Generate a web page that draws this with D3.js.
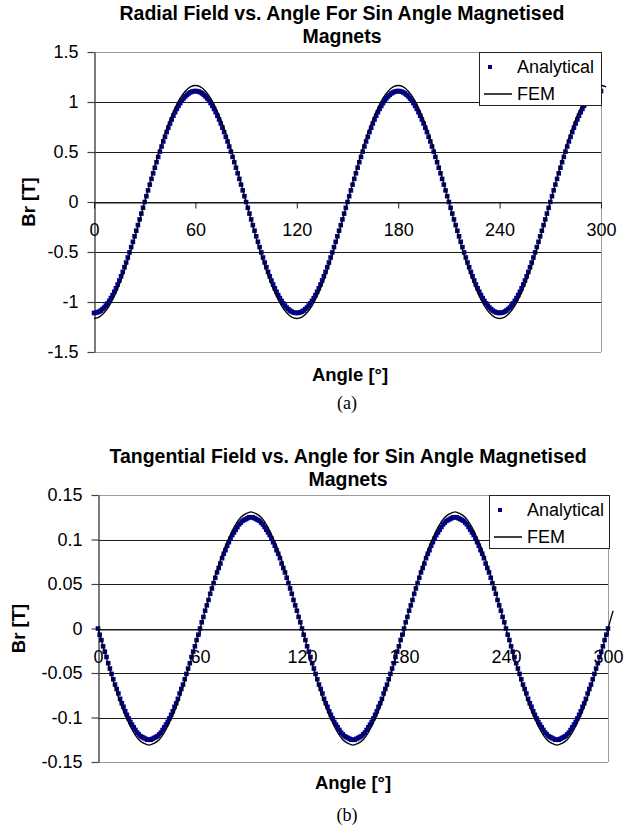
<!DOCTYPE html>
<html>
<head>
<meta charset="utf-8">
<script src="https://cdn.jsdelivr.net/npm/d3@7"></script>
<style>
  body { margin: 0; background: #fff; }
  svg { display: block; font-family: Arial, "Liberation Sans", sans-serif; }
</style>
</head>
<body>
<svg id="chart" width="633" height="835"></svg>
<script>
const ANGLE_TICKS = [0, 60, 120, 180, 240, 300];
const RADIAL_TICKS = [-1.5, -1, -0.5, 0, 0.5, 1, 1.5];
const TANGENTIAL_TICKS = [-0.15, -0.1, -0.05, 0, 0.05, 0.1, 0.15];
const SERIES_NAMES = ['Analytical', 'FEM'];
const TITLES = [
  ['Radial Field vs. Angle For Sin Angle Magnetised', 'Magnets'],
  ['Tangential Field vs. Angle for Sin Angle Magnetised', 'Magnets']
];
const X_TITLE = 'Angle [°]';
const Y_TITLE = 'Br [T]';
const CAPTIONS = ['(a)', '(b)'];

// analytical points, one per degree, 0..300
const ANALYTICAL_STEP = 1;
// FEM points, every 3 degrees, 0..303
const FEM_STEP = 3;

const RADIAL_ANALYTICAL = [
  -1.110,-1.108,-1.104,-1.096,-1.086,-1.072,-1.056,-1.036,-1.014,-0.989,-0.961,-0.931,-0.898,-0.863,-0.825,-0.785,-0.743,-0.699,-0.652,-0.605,-0.555,-0.504,-0.451,-0.398,-0.343,-0.287,-0.231,-0.174,-0.116,-0.058,0,
  0.058,0.116,0.174,0.231,0.287,0.343,0.398,0.451,0.504,0.555,0.605,0.652,0.699,0.743,0.785,0.825,0.863,0.898,0.931,0.961,0.989,1.014,1.036,1.056,1.072,1.086,1.096,1.104,1.108,1.110,
  1.108,1.104,1.096,1.086,1.072,1.056,1.036,1.014,0.989,0.961,0.931,0.898,0.863,0.825,0.785,0.743,0.699,0.652,0.605,0.555,0.504,0.451,0.398,0.343,0.287,0.231,0.174,0.116,0.058,0,
  -0.058,-0.116,-0.174,-0.231,-0.287,-0.343,-0.398,-0.451,-0.504,-0.555,-0.605,-0.652,-0.699,-0.743,-0.785,-0.825,-0.863,-0.898,-0.931,-0.961,-0.989,-1.014,-1.036,-1.056,-1.072,-1.086,-1.096,-1.104,-1.108,
  -1.110,-1.108,-1.104,-1.096,-1.086,-1.072,-1.056,-1.036,-1.014,-0.989,-0.961,-0.931,-0.898,-0.863,-0.825,-0.785,-0.743,-0.699,-0.652,-0.605,-0.555,-0.504,-0.451,-0.398,-0.343,-0.287,-0.231,-0.174,-0.116,-0.058,0,
  0.058,0.116,0.174,0.231,0.287,0.343,0.398,0.451,0.504,0.555,0.605,0.652,0.699,0.743,0.785,0.825,0.863,0.898,0.931,0.961,0.989,1.014,1.036,1.056,1.072,1.086,1.096,1.104,1.108,1.110,
  1.108,1.104,1.096,1.086,1.072,1.056,1.036,1.014,0.989,0.961,0.931,0.898,0.863,0.825,0.785,0.743,0.699,0.652,0.605,0.555,0.504,0.451,0.398,0.343,0.287,0.231,0.174,0.116,0.058,0,
  -0.058,-0.116,-0.174,-0.231,-0.287,-0.343,-0.398,-0.451,-0.504,-0.555,-0.605,-0.652,-0.699,-0.743,-0.785,-0.825,-0.863,-0.898,-0.931,-0.961,-0.989,-1.014,-1.036,-1.056,-1.072,-1.086,-1.096,-1.104,-1.108,
  -1.110,-1.108,-1.104,-1.096,-1.086,-1.072,-1.056,-1.036,-1.014,-0.989,-0.961,-0.931,-0.898,-0.863,-0.825,-0.785,-0.743,-0.699,-0.652,-0.605,-0.555,-0.504,-0.451,-0.398,-0.343,-0.287,-0.231,-0.174,-0.116,-0.058,0,
  0.058,0.116,0.174,0.231,0.287,0.343,0.398,0.451,0.504,0.555,0.605,0.652,0.699,0.743,0.785,0.825,0.863,0.898,0.931,0.961,0.989,1.014,1.036,1.056,1.072,1.086,1.096,1.104,1.108,1.110
];

const RADIAL_FEM = [
  -1.165,-1.151,-1.108,-1.038,-0.943,-0.824,-0.685,-0.529,-0.360,-0.182,0,
  0.182,0.360,0.529,0.685,0.824,0.943,1.038,1.108,1.151,1.165,
  1.151,1.108,1.038,0.943,0.824,0.685,0.529,0.360,0.182,0,
  -0.182,-0.360,-0.529,-0.685,-0.824,-0.943,-1.038,-1.108,-1.151,
  -1.165,-1.151,-1.108,-1.038,-0.943,-0.824,-0.685,-0.529,-0.360,-0.182,0,
  0.182,0.360,0.529,0.685,0.824,0.943,1.038,1.108,1.151,1.165,
  1.151,1.108,1.038,0.943,0.824,0.685,0.529,0.360,0.182,0,
  -0.182,-0.360,-0.529,-0.685,-0.824,-0.943,-1.038,-1.108,-1.151,
  -1.165,-1.151,-1.108,-1.038,-0.943,-0.824,-0.685,-0.529,-0.360,-0.182,0,
  0.182,0.360,0.529,0.685,0.824,0.943,1.038,1.108,1.151,1.165,
  1.151
];

const TANGENTIAL_ANALYTICAL = [
  0,-0.007,-0.013,-0.020,-0.026,-0.032,-0.039,-0.045,-0.051,-0.057,-0.063,-0.068,-0.073,-0.079,-0.084,-0.088,-0.093,-0.097,-0.101,-0.105,-0.108,-0.111,-0.114,-0.117,-0.119,-0.121,-0.122,-0.123,-0.124,-0.125,-0.125,
  -0.125,-0.124,-0.123,-0.122,-0.121,-0.119,-0.117,-0.114,-0.111,-0.108,-0.105,-0.101,-0.097,-0.093,-0.088,-0.084,-0.079,-0.073,-0.068,-0.063,-0.057,-0.051,-0.045,-0.039,-0.032,-0.026,-0.020,-0.013,-0.007,0,
  0.007,0.013,0.020,0.026,0.032,0.039,0.045,0.051,0.057,0.063,0.068,0.073,0.079,0.084,0.088,0.093,0.097,0.101,0.105,0.108,0.111,0.114,0.117,0.119,0.121,0.122,0.123,0.124,0.125,0.125,
  0.125,0.124,0.123,0.122,0.121,0.119,0.117,0.114,0.111,0.108,0.105,0.101,0.097,0.093,0.088,0.084,0.079,0.073,0.068,0.063,0.057,0.051,0.045,0.039,0.032,0.026,0.020,0.013,0.007,
  0,-0.007,-0.013,-0.020,-0.026,-0.032,-0.039,-0.045,-0.051,-0.057,-0.063,-0.068,-0.073,-0.079,-0.084,-0.088,-0.093,-0.097,-0.101,-0.105,-0.108,-0.111,-0.114,-0.117,-0.119,-0.121,-0.122,-0.123,-0.124,-0.125,-0.125,
  -0.125,-0.124,-0.123,-0.122,-0.121,-0.119,-0.117,-0.114,-0.111,-0.108,-0.105,-0.101,-0.097,-0.093,-0.088,-0.084,-0.079,-0.073,-0.068,-0.063,-0.057,-0.051,-0.045,-0.039,-0.032,-0.026,-0.020,-0.013,-0.007,0,
  0.007,0.013,0.020,0.026,0.032,0.039,0.045,0.051,0.057,0.063,0.068,0.073,0.079,0.084,0.088,0.093,0.097,0.101,0.105,0.108,0.111,0.114,0.117,0.119,0.121,0.122,0.123,0.124,0.125,0.125,
  0.125,0.124,0.123,0.122,0.121,0.119,0.117,0.114,0.111,0.108,0.105,0.101,0.097,0.093,0.088,0.084,0.079,0.073,0.068,0.063,0.057,0.051,0.045,0.039,0.032,0.026,0.020,0.013,0.007,
  0,-0.007,-0.013,-0.020,-0.026,-0.032,-0.039,-0.045,-0.051,-0.057,-0.063,-0.068,-0.073,-0.079,-0.084,-0.088,-0.093,-0.097,-0.101,-0.105,-0.108,-0.111,-0.114,-0.117,-0.119,-0.121,-0.122,-0.123,-0.124,-0.125,-0.125,
  -0.125,-0.124,-0.123,-0.122,-0.121,-0.119,-0.117,-0.114,-0.111,-0.108,-0.105,-0.101,-0.097,-0.093,-0.088,-0.084,-0.079,-0.073,-0.068,-0.063,-0.057,-0.051,-0.045,-0.039,-0.032,-0.026,-0.020,-0.013,-0.007,0
];

const TANGENTIAL_FEM = [
  0,-0.020,-0.040,-0.059,-0.077,-0.093,-0.106,-0.117,-0.125,-0.129,-0.131,
  -0.129,-0.125,-0.117,-0.106,-0.093,-0.077,-0.059,-0.040,-0.020,0,
  0.020,0.040,0.059,0.077,0.093,0.106,0.117,0.125,0.129,0.131,
  0.129,0.125,0.117,0.106,0.093,0.077,0.059,0.040,0.020,
  0,-0.020,-0.040,-0.059,-0.077,-0.093,-0.106,-0.117,-0.125,-0.129,-0.131,
  -0.129,-0.125,-0.117,-0.106,-0.093,-0.077,-0.059,-0.040,-0.020,0,
  0.020,0.040,0.059,0.077,0.093,0.106,0.117,0.125,0.129,0.131,
  0.129,0.125,0.117,0.106,0.093,0.077,0.059,0.040,0.020,
  0,-0.020,-0.040,-0.059,-0.077,-0.093,-0.106,-0.117,-0.125,-0.129,-0.131,
  -0.129,-0.125,-0.117,-0.106,-0.093,-0.077,-0.059,-0.040,-0.020,0,
  0.020
];

const BLUE = '#020280';
const BORDER_GREY = '#9c9c9c';

const PANELS = [
  {
    title: TITLES[0], caption: CAPTIONS[0],
    yTicks: RADIAL_TICKS, analytical: RADIAL_ANALYTICAL, fem: RADIAL_FEM,
    top: 52, bottom: 352, left: 94, right: 601,
    titleX: 342, titleY: [20, 43], yTitleX: 28,
    xTitle: { x: 350, y: 381 }, captionPos: { x: 347, y: 409 },
    legend: { x: 479, y: 52, w: 122, h: 53 }
  },
  {
    title: TITLES[1], caption: CAPTIONS[1],
    yTicks: TANGENTIAL_TICKS, analytical: TANGENTIAL_ANALYTICAL, fem: TANGENTIAL_FEM,
    top: 495, bottom: 762, left: 98, right: 608,
    titleX: 348, titleY: [463, 486], yTitleX: 18,
    xTitle: { x: 353, y: 789 }, captionPos: { x: 347, y: 821 },
    legend: { x: 489, y: 495, w: 120, h: 53 }
  }
];

const svg = d3.select('#chart');

function drawPanel(p) {
  const g = svg.append('g');
  const yMin = d3.min(p.yTicks), yMax = d3.max(p.yTicks);
  const x = d3.scaleLinear().domain([0, 300]).range([p.left, p.right]);
  const y = d3.scaleLinear().domain([yMin, yMax]).range([p.bottom, p.top]);

  // gridlines, outer ones are the grey plot frame
  g.selectAll('.grid')
    .data(p.yTicks)
    .join('line')
    .attr('x1', p.left).attr('x2', p.right)
    .attr('y1', d => Math.round(y(d)) + 0.5).attr('y2', d => Math.round(y(d)) + 0.5)
    .attr('stroke', d => (d === yMin || d === yMax) ? BORDER_GREY : '#1a1a1a')
    .attr('stroke-width', 1);
  g.append('line')
    .attr('x1', p.right + 0.5).attr('x2', p.right + 0.5)
    .attr('y1', p.top).attr('y2', p.bottom)
    .attr('stroke', BORDER_GREY);

  // value axis
  const yAxis = d3.axisLeft(y)
    .tickValues(p.yTicks)
    .tickSize(7).tickSizeOuter(0).tickPadding(9)
    .tickFormat(d => String(d));
  const yAxisG = g.append('g')
    .attr('transform', `translate(${p.left + 0.5},0)`)
    .call(yAxis);
  yAxisG.attr('font-family', null).attr('font-size', null);
  yAxisG.select('.domain').attr('stroke', '#444').attr('stroke-width', 1.4);
  yAxisG.selectAll('.tick line').attr('stroke', '#444').attr('stroke-width', 1.2);
  yAxisG.selectAll('text').attr('fill', '#000').attr('font-size', '18px');

  // angle axis crosses at zero
  const xAxis = d3.axisBottom(x)
    .tickValues(ANGLE_TICKS)
    .tickSize(6).tickSizeOuter(0).tickPadding(15);
  const xAxisG = g.append('g')
    .attr('transform', `translate(0,${Math.round(y(0)) + 0.5})`)
    .call(xAxis);
  xAxisG.attr('font-family', null).attr('font-size', null);
  xAxisG.select('.domain').attr('stroke', '#1a1a1a');
  xAxisG.selectAll('.tick line').attr('stroke', '#1a1a1a');
  xAxisG.selectAll('text').attr('fill', '#000').attr('font-size', '18px');

  // analytical markers
  const ms = 4.6;
  g.append('g')
    .selectAll('rect')
    .data(p.analytical)
    .join('rect')
    .attr('x', (d, i) => x(i * ANALYTICAL_STEP) - ms / 2)
    .attr('y', d => y(d) - ms / 2)
    .attr('width', ms).attr('height', ms)
    .attr('fill', BLUE);

  // FEM line
  const line = d3.line()
    .x((d, i) => x(i * FEM_STEP))
    .y(d => y(d))
    .curve(d3.curveCatmullRom);
  g.append('path')
    .datum(p.fem)
    .attr('d', line)
    .attr('fill', 'none')
    .attr('stroke', '#000')
    .attr('stroke-width', 1.3);

  // legend
  const lg = g.append('g').attr('transform', `translate(${p.legend.x},${p.legend.y})`);
  lg.append('rect')
    .attr('x', 0.5).attr('y', 0.5)
    .attr('width', p.legend.w).attr('height', p.legend.h)
    .attr('fill', '#fff').attr('stroke', '#222').attr('stroke-width', 1);
  const rows = [15, 42];
  lg.append('rect')
    .attr('x', 11 - 2).attr('y', rows[0] - 2)
    .attr('width', 4).attr('height', 4).attr('fill', BLUE);
  lg.append('line')
    .attr('x1', 5).attr('x2', 33)
    .attr('y1', rows[1]).attr('y2', rows[1])
    .attr('stroke', '#000').attr('stroke-width', 1.5);
  lg.selectAll('.legend-label')
    .data(SERIES_NAMES)
    .join('text')
    .attr('x', 38)
    .attr('y', (d, i) => rows[i])
    .attr('dy', '0.36em')
    .attr('font-size', '18px')
    .text(d => d);

  // titles
  g.selectAll('.title')
    .data(p.title)
    .join('text')
    .attr('x', p.titleX)
    .attr('y', (d, i) => p.titleY[i])
    .attr('text-anchor', 'middle')
    .attr('font-size', '19.5px')
    .attr('font-weight', 'bold')
    .text(d => d);

  g.append('text')
    .attr('x', p.xTitle.x).attr('y', p.xTitle.y)
    .attr('text-anchor', 'middle')
    .attr('font-size', '18.5px').attr('font-weight', 'bold')
    .text(X_TITLE);

  g.append('text')
    .attr('transform', `translate(${p.yTitleX},${y(0)}) rotate(-90)`)
    .attr('text-anchor', 'middle')
    .attr('dy', '0.36em')
    .attr('font-size', '18.5px').attr('font-weight', 'bold')
    .text(Y_TITLE);

  g.append('text')
    .attr('x', p.captionPos.x).attr('y', p.captionPos.y)
    .attr('text-anchor', 'middle')
    .attr('font-family', '"Liberation Serif", "Times New Roman", serif')
    .attr('font-size', '18px')
    .text(p.caption);
}

PANELS.forEach(drawPanel);
</script>
</body>
</html>
